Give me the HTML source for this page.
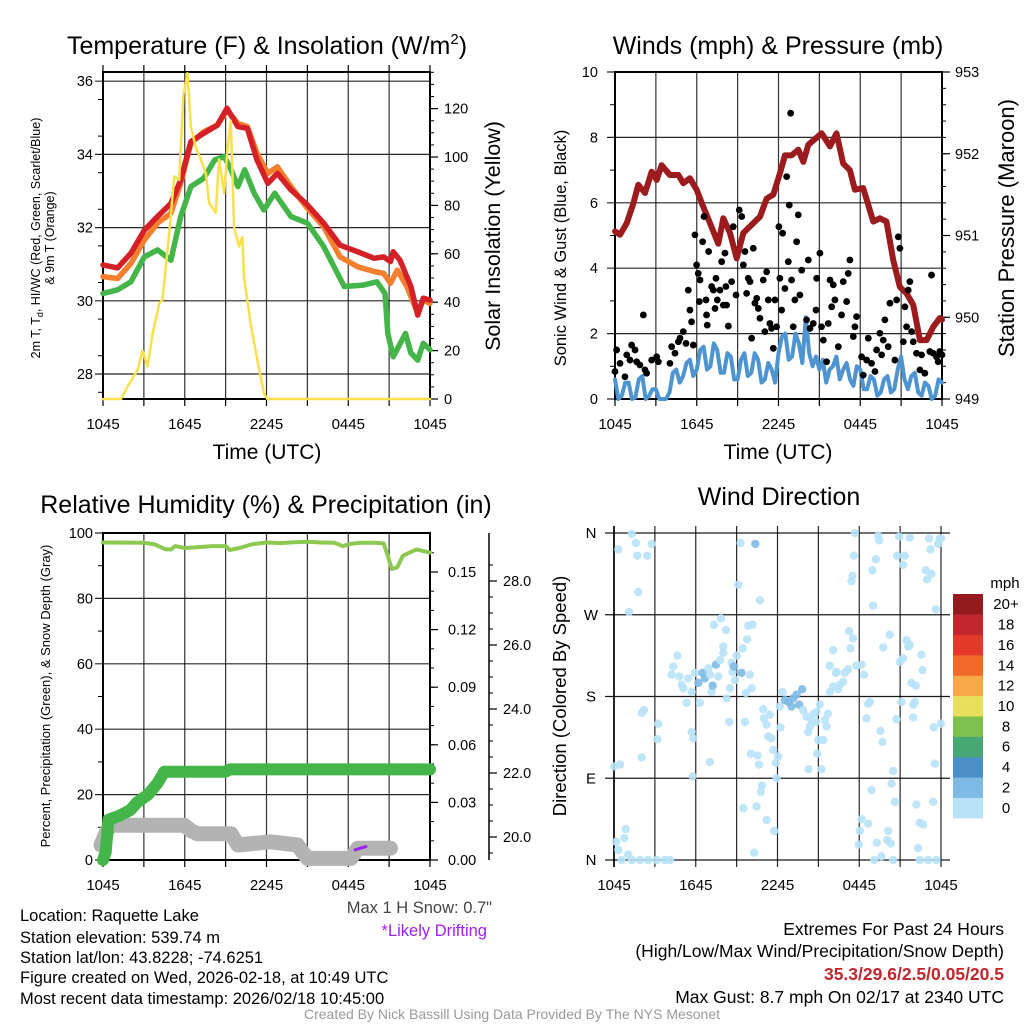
<!DOCTYPE html>
<html><head><meta charset="utf-8">
<style>
html,body{margin:0;padding:0;background:#fff;}
svg{display:block;font-family:"Liberation Sans",Arial,sans-serif;}
</style></head>
<body>
<svg id="fig" width="1024" height="1024" viewBox="0 0 1024 1024" xmlns="http://www.w3.org/2000/svg">
<g id="static">
<text x="267" y="54" font-size="25" text-anchor="middle">Temperature (F) &amp; Insolation (W/m<tspan dy="-10" font-size="15">2</tspan><tspan dy="10">)</tspan></text>
<text x="778" y="54" font-size="25" text-anchor="middle">Winds (mph) &amp; Pressure (mb)</text>
<text x="266" y="513" font-size="25" text-anchor="middle">Relative Humidity (%) &amp; Precipitation (in)</text>
<text x="779" y="505" font-size="25" text-anchor="middle">Wind Direction</text>
<text x="267" y="459" font-size="21" text-anchor="middle">Time (UTC)</text>
<text x="778" y="459" font-size="21" text-anchor="middle">Time (UTC)</text>
<text transform="translate(40,238) rotate(-90)" font-size="12.5" text-anchor="middle">2m T, T<tspan font-size="9" dy="3">d</tspan><tspan dy="-3">, HI/WC (Red, Green, Scarlet/Blue)</tspan></text>
<text transform="translate(54,238) rotate(-90)" font-size="12.5" text-anchor="middle">&amp; 9m T (Orange)</text>
<text transform="translate(500,236) rotate(-90)" font-size="21.5" text-anchor="middle">Solar Insolation (Yellow)</text>
<text transform="translate(566,248) rotate(-90)" font-size="16.5" text-anchor="middle">Sonic Wind &amp; Gust (Blue, Black)</text>
<text transform="translate(1014,228) rotate(-90)" font-size="22" text-anchor="middle">Station Pressure (Maroon)</text>
<text transform="translate(50,696) rotate(-90)" font-size="13" text-anchor="middle">Percent, Precipitation (Green), &amp; Snow Depth (Gray)</text>
<text transform="translate(566,696) rotate(-90)" font-size="18.5" text-anchor="middle">Direction (Colored By Speed)</text>
<text x="1005" y="588" font-size="15" text-anchor="middle">mph</text>
<text x="492" y="913" font-size="16.5" fill="#444" text-anchor="end">Max 1 H Snow: 0.7"</text>
<text x="487" y="936" font-size="16.5" fill="#a020f0" text-anchor="end">*Likely Drifting</text>
<g font-size="16.5">
<text x="20" y="921">Location: Raquette Lake</text>
<text x="20" y="943">Station elevation: 539.74 m</text>
<text x="20" y="963">Station lat/lon: 43.8228; -74.6251</text>
<text x="20" y="983">Figure created on Wed, 2026-02-18, at 10:49 UTC</text>
<text x="20" y="1004">Most recent data timestamp: 2026/02/18 10:45:00</text>
</g>
<g font-size="17.5" text-anchor="end">
<text x="1004" y="935">Extremes For Past 24 Hours</text>
<text x="1004" y="957">(High/Low/Max Wind/Precipitation/Snow Depth)</text>
<text x="1004" y="980" font-weight="bold" fill="#c1272d">35.3/29.6/2.5/0.05/20.5</text>
<text x="1004" y="1003">Max Gust: 8.7 mph On 02/17 at 2340 UTC</text>
</g>
<text x="512" y="1019" font-size="14" fill="#999" text-anchor="middle">Created By Nick Bassill Using Data Provided By The NYS Mesonet</text>
</g>
</svg>
<script>
// ---- data ----
const xTickLabels = ["1045","1645","2245","0445","1045"];
const xTickHours = [0,6,12,18,24];
// Temperature panel
const tempTicks = [28,30,32,34,36];
const insolTicks = [0,20,40,60,80,100,120];
const redHours = [0,1.07,2.05,3.03,4.0,4.98,5.7,6.45,7.4,8.4,9.1,9.9,10.6,11.3,12.1,12.8,13.8,15.0,16.2,17.4,18.7,19.9,20.6,21.1,21.3,21.8,22.6,23.1,23.5,24];
const redTemps = [30.98,30.90,31.30,31.93,32.30,32.66,33.30,34.35,34.58,34.80,35.26,34.76,34.71,33.85,33.21,33.48,33.03,32.62,32.12,31.52,31.34,31.16,31.20,31.07,31.34,31.11,30.39,29.61,30.07,30.02];
const orangeHours = [0,1.07,2.05,3.03,4.0,4.98,5.7,6.45,7.4,8.4,9.1,9.9,10.6,11.3,12.1,12.8,13.8,15.0,16.2,17.4,18.7,19.9,20.6,21.1,21.6,22.3,23.1,23.5,24];
const orangeTemps = [30.66,30.61,31.02,31.66,32.12,32.39,33.21,34.30,34.62,34.80,35.21,34.85,34.76,34.03,33.48,33.66,33.12,32.53,32.02,31.20,30.93,30.80,30.75,30.48,30.84,30.39,29.66,30.02,29.93];
const greenHours = [0,1.07,2.05,3.03,4.0,4.98,5.7,6.45,7.4,8.2,8.9,9.4,9.9,10.4,11.1,11.8,12.6,13.8,15.0,16.2,17.7,19.1,20.1,20.7,20.9,21.3,22.2,22.6,23.1,23.5,24];
const greenTemps = [30.20,30.30,30.52,31.20,31.39,31.11,32.30,33.12,33.35,33.85,33.94,33.58,33.12,33.58,32.94,32.48,32.94,32.30,32.12,31.48,30.39,30.43,30.52,30.20,29.11,28.47,29.11,28.57,28.38,28.84,28.66];
const insolHours = [0,1.32,1.93,2.54,2.9,3.27,3.64,4.13,4.37,4.86,5.23,5.59,5.91,6.2,6.45,6.81,7.18,7.55,7.79,8.28,8.52,8.89,9.13,9.38,9.62,9.99,10.23,10.35,10.84,11.33,11.82,12.06,24];
const insolValues = [0,0,6.5,12,20,13.4,27,39.5,41,68.5,92,90.5,126,134.6,112.5,104,99,93,81,77,99,85,103,115,71,63,67,50.5,31,16,2.3,0,0];
// Wind panel
const windTicks = [0,2,4,6,8,10];
const pressTicks = [949,950,951,952,953];
const pressHours = [0,0.37,0.86,1.34,1.71,2.2,2.69,3.06,3.42,4.03,4.65,5.01,5.5,5.99,6.48,6.97,7.58,7.95,8.44,8.93,9.42,10.15,10.64,11.13,11.62,12.1,12.47,12.96,13.45,13.82,14.19,15.16,15.78,16.26,16.75,17.24,17.61,18.22,18.96,19.44,19.93,20.42,20.91,21.4,21.89,22.38,22.87,23.35,23.84,24];
const pressValues = [951.05,951.01,951.15,951.39,951.62,951.52,951.78,951.68,951.86,951.74,951.74,951.64,951.70,951.56,951.35,951.15,950.90,951.21,951.03,950.72,951.03,951.15,951.23,951.45,951.50,951.76,951.98,951.98,952.05,951.90,952.11,952.25,952.09,952.25,951.88,951.80,951.56,951.58,951.17,951.21,951.17,950.70,950.37,950.29,950.15,949.72,949.72,949.88,949.99,949.97];
const windHours = [0,0.25,0.5,0.75,1,1.25,1.5,1.75,2,2.25,2.5,2.75,3,3.25,3.5,3.75,4,4.25,4.5,4.75,5,5.25,5.5,5.75,6,6.25,6.5,6.75,7,7.25,7.5,7.75,8,8.25,8.5,8.75,9,9.25,9.5,9.75,10,10.25,10.5,10.75,11,11.25,11.5,11.75,12,12.25,12.5,12.75,13,13.25,13.5,13.75,14,14.25,14.5,14.75,15,15.25,15.5,15.75,16,16.25,16.5,16.75,17,17.25,17.5,17.75,18,18.25,18.5,18.75,19,19.25,19.5,19.75,20,20.25,20.5,20.75,21,21.25,21.5,21.75,22,22.25,22.5,22.75,23,23.25,23.5,23.75,24];
const windSpeeds = [0.6,0.0,0.1,0.5,0.5,0.0,0.05,0.6,0.7,0.0,0.1,0.3,0.3,0.0,0,0.0,0.2,0.8,0.9,0.5,0.7,1.1,1.2,0.7,0.9,1.5,1.6,0.9,1.0,1.7,1.5,0.8,0.8,1.4,1.3,0.6,0.6,1.2,1.4,0.7,0.8,1.4,1.2,0.5,0.6,1.1,0.9,0.5,1.4,1.9,2.0,1.2,1.3,2.0,1.7,1.1,2.5,1.4,1.0,1.3,0.9,1.2,0.5,0.9,1.0,1.3,0.6,0.9,1.1,0.6,0.4,1.0,0.9,0.3,0.3,0.7,0.6,0.1,0.2,0.6,0.7,0.2,0.3,0.9,1.3,0.6,0.3,0.7,0.8,0.2,0.1,0.5,0.4,0.0,0.1,0.6,0.5];
const gustHours = [0,0.12,0.37,0.73,0.86,1.1,1.22,1.47,1.59,1.83,2.08,2.2,2.32,2.69,3.06,3.18,4.03,4.16,4.4,4.65,4.77,5.01,5.21,5.38,5.5,5.62,5.75,5.87,5.99,6.11,6.19,6.24,6.43,6.53,6.68,6.72,6.77,6.87,7.09,7.22,7.34,7.41,7.51,7.7,7.83,7.95,8.07,8.14,8.19,8.32,8.56,8.68,8.88,9.12,9.3,9.42,9.54,9.66,9.78,9.91,10.03,10.15,10.27,10.4,10.52,10.64,10.88,11.0,11.13,11.25,11.37,11.49,11.62,11.74,11.86,12.03,12.1,12.23,12.3,12.47,12.6,12.72,12.79,12.89,12.96,13.08,13.2,13.33,13.45,13.57,13.7,14.06,14.19,14.31,14.55,14.75,14.8,15.04,15.16,15.29,15.53,15.65,15.78,15.9,16.02,16.14,16.39,16.63,16.75,17.0,17.12,17.24,17.49,17.61,17.73,18.1,18.22,18.47,18.59,18.83,19.08,19.2,19.44,19.57,19.69,19.81,20.05,20.18,20.54,20.67,20.79,20.91,21.16,21.28,21.4,21.52,21.64,21.77,21.89,22.13,22.38,22.5,22.74,23.11,23.23,23.35,23.6,23.72,23.84,24];
const gustSpeeds = [0.84,1.50,1.09,0.68,1.35,1.19,1.65,1.50,1.14,1.04,2.57,0.89,0.79,1.19,1.29,1.14,1.09,1.60,1.40,1.75,1.86,2.06,1.70,3.33,2.72,2.36,1.65,5.02,4.10,3.84,2.98,3.64,4.81,5.58,3.03,2.57,2.26,4.51,3.44,3.33,2.77,3.69,3.03,3.33,4.20,2.87,4.46,3.44,2.87,2.23,3.59,5.27,3.18,5.78,5.58,4.10,4.51,3.23,3.69,3.59,1.86,4.61,2.93,3.08,2.77,2.47,3.64,2.06,3.89,3.03,2.31,2.16,1.55,3.03,2.21,5.27,3.69,2.72,5.07,3.38,6.80,4.20,5.93,8.74,3.64,2.21,3.03,4.81,5.63,3.18,3.94,2.42,4.25,2.16,2.31,2.72,3.69,4.46,2.21,1.80,1.14,2.31,3.64,2.82,3.49,3.03,1.60,2.57,3.59,2.98,3.84,4.25,1.91,2.21,2.52,1.29,0.73,1.19,1.86,1.09,0.84,1.50,2.01,1.35,1.80,2.42,1.60,2.93,1.19,3.03,4.96,4.61,1.75,2.82,2.21,3.33,3.59,2.06,1.75,1.40,0.89,1.35,0.79,1.45,3.79,1.40,1.29,1.14,1.45,1.35];
// Humidity panel
const rhTicks = [0,20,40,60,80,100];
const precipTicks = [0,0.03,0.06,0.09,0.12,0.15];
const precipTickLabels = ["0.00","0.03","0.06","0.09","0.12","0.15"];
const snowTicks = [20,22,24,26,28];
const snowTickLabels = ["20.0","22.0","24.0","26.0","28.0"];
const rhHours = [0,3,3.8,4.6,5,5.3,6,7,8,9,9.3,10,11,12,13,14,15,16,17,17.6,18.2,19,20,20.6,20.9,21.2,21.6,22,22.5,23,24];
const rhValues = [97.1,97.0,96.5,95.0,95.0,96.0,95.4,95.7,96.0,96.0,94.8,95.4,96.6,97.1,96.9,97.2,97.3,97.1,97.0,96.0,96.7,97.0,97.0,96.8,93.0,89.0,89.5,93.0,94.0,95.0,94.0];
const precipHours = [0,0.2,0.3,0.4,1.2,2,2.5,3.3,4,4.5,9,9.3,24];
const precipValues = [0,0.004,0.013,0.021,0.023,0.026,0.030,0.034,0.040,0.046,0.046,0.0472,0.0472];
const snowHours = [-0.15,0.3,0.6,5.96,6.45,6.93,9.4,9.9,12.3,14.26,15.0,18.2,18.7,21.1];
const snowDepths = [19.75,20.2,20.37,20.37,20.2,20.1,20.1,19.75,19.85,19.75,19.33,19.33,19.65,19.65];
const driftHours = [18.5,19.3];
const driftDepths = [19.6,19.7];
// Direction panel
const dirLabels = ["N","E","S","W","N"];
const dirTicks = [0,90,180,270,360];
const dirHours = [0.32,1.30,1.61,1.71,2.44,2.76,1.78,1.10,0,0.44,0.15,0.32,0.86,0.76,0.56,1.05,1.30,1.91,2.52,3.13,3.74,4.11,2.03,2.20,2.03,3.25,3.18,4.35,4.23,4.65,4.79,4.96,5.09,5.33,5.45,5.70,5.70,5.82,5.77,5.94,6.19,6.31,6.50,6.67,6.92,7.04,7.16,7.24,7.04,7.33,7.48,7.65,7.78,7.85,8.02,8.02,8.22,8.26,8.46,8.51,8.63,8.70,8.80,8.88,9.00,9.12,9.29,9.36,9.44,9.61,9.68,9.78,9.85,9.98,10.17,10.10,10.37,10.71,10.05,10.54,10.64,10.86,10.78,10.46,10.95,11.00,11.20,11.32,11.44,11.56,11.69,11.93,11.88,12.05,11.20,11.76,9.49,10.29,12.18,12.22,12.37,12.54,12.79,13.03,13.15,13.40,13.59,13.81,13.89,14.13,14.25,14.38,14.50,14.67,14.82,14.87,15.11,14.99,15.35,15.48,15.60,15.70,14.91,15.23,14.28,15.84,16.09,16.28,16.33,15.84,16.09,16.45,16.58,16.82,16.94,17.19,17.26,17.36,17.55,17.80,18.17,18.34,17.68,17.60,17.51,17.43,18.78,18.66,18.53,19.56,19.71,20.49,18.90,18.17,18.04,18.66,17.97,19.29,19.63,20.12,20.05,20.32,19.10,20.49,20.37,20.61,21.10,20.73,20.98,21.22,21.47,21.59,21.71,21.83,21.96,22.08,21.96,22.57,22.64,22.15,22.20,22.44,22.69,22.32,22.44,23.06,23.67,23.42,23.55,23.47,24.0,19.76,20.24,19.02,18.97,19.22,19.39,19.46,20.93,20.78,21.34,21.22,21.71,23.13,23.23,22.88,22.98,23.30,23.91,23.79,23.62,24.0];
const dirDegrees = [342,359,349,335,335,348,295,273,103,105,20,11,34,24,0,6,0,0,0,0,0,0,162,165,113,150,133,213,204,225,202,193,189,173,200,185,141,134,92,206,195,173,206,200,211,204,185,192,108,259,215,202,220,266,235,228,253,178,152,189,217,207,213,198,225,303,349,206,233,152,184,243,258,204,259,189,348,286,117,115,105,82,75,59,166,156,149,136,160,134,121,90,107,114,44,32,57,8,169,146,185,176,174,169,178,182,171,188,165,158,141,147,154,161,152,163,171,132,132,154,147,161,117,100,100,214,231,206,207,185,191,188,193,196,206,210,252,233,244,214,215,204,360,335,313,307,174,172,156,142,130,98,77,45,32,40,17,19,4,32,22,18,0,0,84,64,174,155,218,222,242,235,237,195,171,174,157,226,209,192,61,41,39,13,0,0,0,64,106,146,150,234,248,280,319,331,357,352,356,335,335,325,355,354,342,319,309,315,354,348,276,354];
const dirSpeeds = [1,1,1,1,1,1,1,1,1,1,1,1,1,1,1,1,1,1,1,1,1,1,1,1,1,1,1,1,1,1,1,1,1,1,1,1,1,1,1,1,3,1,3,3,1,1,1,3,1,1,3,1,1,1,1,1,1,1,1,1,1,1,3,1,1,1,1,3,1,1,1,1,1,1,1,1,3,1,1,1,1,1,1,1,1,1,1,1,1,1,1,1,1,1,1,1,1,1,1,1,1,3,3,3,3,3,3,3,1,1,1,1,1,1,1,1,1,1,1,1,1,1,1,1,1,1,1,1,1,1,1,1,1,1,1,1,1,1,1,1,1,1,1,1,1,1,1,1,1,1,1,1,1,1,1,1,1,1,1,1,1,1,1,1,1,1,1,1,1,1,1,1,1,1,1,1,1,1,1,1,1,1,1,1,1,1,1,1,1,1,1,1,1,1,1,1,1,1,1,1,1,1,1,1,1,1,1,1,1,1,1,1,1,1];
const cbLabels = ["0","2","4","6","8","10","12","14","16","18","20+"];
const cbColors = ["#b8e2f7","#7fbae4","#4a8fc6","#48a873","#7fc14e","#e8e05a","#f9a847","#f26a2a","#e2392b","#c1272d","#931a1d"];

// ---- scales ----
const NS = "http://www.w3.org/2000/svg";
const svg = document.getElementById("fig");
function mk(tag, attrs, parent){ const e=document.createElementNS(NS,tag); for(const k in attrs) e.setAttribute(k,attrs[k]); (parent||svg).appendChild(e); return e; }
const xL = h => 103 + h*327/24;
const xW = h => 615 + h*327/24;
const xR = h => 614 + h*327/24;
const yTemp = t => 374 - (t-28)*36.6;
const yInsol = v => 399 - v*2.42;
const yWind = v => 399 - v*32.7;
const yPress = p => 399 - (p-949)*81.75;
const yRH = v => 860 - v*3.27;
const yPrecip = v => 860 - v*1920;
const ySnow = v => 837 - (v-20)*32;
const yDir = d => 860 - d*327/360;
const cbY = i => 818 - (i+1)*224/11;

function lineD(xs, ys, xf, yf){ return xs.map((h,i)=>(i?"L":"M")+xf(h).toFixed(1)+","+yf(ys[i]).toFixed(1)).join(""); }

// ---- frames, grids, ticks ----
function frame(x0,x1,y0,y1,name,gridYs,minorYsL,name2){
  const g = mk("g",{});
  
  
  for(let k=1;k<8;k++){ const x=x0+k*(x1-x0)/8;
    const l=mk("line",{x1:x,x2:x,y1:y0,y2:y1,stroke:"#000","stroke-width":1.2,"stroke-opacity":0.8},g);
    
     }
  gridYs.forEach(y=>{ const l=mk("line",{x1:x0-8,x2:x1,y1:y,y2:y,stroke:"#000","stroke-width":1.2,"stroke-opacity":0.85},g);
    
     });
  minorYsL.forEach(y=>{ const l=mk("line",{x1:x0-5,x2:x0,y1:y,y2:y,stroke:"#000","stroke-width":1},g);
    
     });
  for(let k=0;k<=8;k++){ const x=x0+k*(x1-x0)/8;
    const t=mk("line",{x1:x,x2:x,y1:y1,y2:y1+7,stroke:"#000","stroke-width":1.2},g);
    
     }
  const r=mk("rect",{x:x0,y:y0,width:x1-x0,height:y1-y0,fill:"none",stroke:"#000","stroke-width":2},g);
  
  
  xTickHours.forEach((h,i)=>{ const t=mk("text",{x:x0+h*(x1-x0)/24,y:y1+30,"font-size":15,"text-anchor":"middle"},g);
    t.textContent=xTickLabels[i];
    
     });
  return g;
}
function yLabels(vals, labels, yf, x, anchor){
  vals.forEach((v,i)=>{ const t=mk("text",{x:x,y:yf(v)+5,"font-size":14.5,"text-anchor":anchor});
    t.textContent=labels[i];
    
     });
}
function rightTicks(x, majors, minors, yf){
  majors.forEach(v=>{ const l=mk("line",{x1:x,x2:x+8,y1:yf(v),y2:yf(v),stroke:"#000","stroke-width":1.2});
    
     });
  minors.forEach(v=>{ const l=mk("line",{x1:x,x2:x+4,y1:yf(v),y2:yf(v),stroke:"#000","stroke-width":1});
    
     });
}
function range(a,b,s){ const r=[]; for(let v=a; v<=b+1e-9; v+=s) r.push(+v.toFixed(4)); return r; }

// Panel 1
frame(103,430,72,399,"temperature-panel",tempTicks.map(yTemp),range(27.5,36,1).map(yTemp),"temperature-plot-area");
for(let k=0;k<=8;k++){ const x=103+k*327/8; const l=mk("line",{x1:x,x2:x,y1:65,y2:72,stroke:"#000","stroke-width":1.2});
  
   }
yLabels(tempTicks, tempTicks.map(String), yTemp, 93, "end");
rightTicks(430, insolTicks, range(5,135,5), yInsol);
yLabels(insolTicks, insolTicks.map(String), yInsol, 444, "start");
// Panel 2
frame(615,942,72,399,"wind-panel",windTicks.map(yWind),range(1,9,2).map(yWind),"wind-plot-area");
yLabels(windTicks, windTicks.map(String), yWind, 598, "end");
rightTicks(942, pressTicks, range(949.2,952.8,0.2), yPress);
yLabels(pressTicks, pressTicks.map(String), yPress, 955, "start");
// Panel 3
frame(103,430,533,860,"humidity-panel",rhTicks.map(yRH),range(10,90,20).map(yRH),"humidity-plot-area");
yLabels(rhTicks, rhTicks.map(String), yRH, 93, "end");
rightTicks(430, precipTicks, range(0.01,0.16,0.01), yPrecip);
yLabels(precipTicks, precipTickLabels, yPrecip, 448, "start");
{ const l=mk("line",{x1:489,x2:489,y1:533,y2:860,stroke:"#000","stroke-width":1.5});
  
   }
rightTicks(489, snowTicks, range(19.5,28.5,0.5), ySnow);
yLabels(snowTicks, snowTickLabels, ySnow, 503, "start");
// Panel 4 (grid only, no box)
{ const g=mk("g",{});
  
  
  for(let k=0;k<=8;k++){ const x=614+k*327/8;
    const l=mk("line",{x1:x,x2:x,y1:526,y2:867,stroke:"#000","stroke-width":k===0?2:1.2,"stroke-opacity":0.85},g);
    
     }
  dirTicks.forEach((d,i)=>{ const y=yDir(d);
    const l=mk("line",{x1:605,x2:950,y1:y,y2:y,stroke:"#000","stroke-width":1.2,"stroke-opacity":0.9},g);
    
    
    const t=mk("text",{x:591,y:y+5,"font-size":15,"text-anchor":"middle"},g);
    t.textContent=dirLabels[i];
    
     });
  xTickHours.forEach((h,i)=>{ const t=mk("text",{x:xR(h),y:890,"font-size":15,"text-anchor":"middle"},g);
    t.textContent=xTickLabels[i];
    
     });
}

// ---- series ----
function path(d, stroke, w, name){ const p=mk("path",{d:d,fill:"none",stroke:stroke,"stroke-width":w,"stroke-linejoin":"round","stroke-linecap":"round"});
  
   return p; }
path(lineD(greenHours,greenTemps,xL,yTemp),"#44b549",5.5,"dewpoint-line");
path(lineD(orangeHours,orangeTemps,xL,yTemp),"#f47f2e",5.5,"9m-temperature-line");
path(lineD(redHours,redTemps,xL,yTemp),"#d42027",5.5,"2m-temperature-line");
path(lineD(insolHours,insolValues,xL,yInsol),"#fbe04e",2.5,"insolation-line");

path(lineD(pressHours,pressValues,xW,yPress),"#9b1b1e",6,"pressure-line");
path(lineD(windHours,windSpeeds,xW,yWind),"#4e94d1",4,"wind-speed-line");
gustHours.forEach((h,i)=>{ const c=mk("circle",{cx:xW(h),cy:yWind(gustSpeeds[i]),r:3.4,fill:"#000"});
  
   });

path(lineD(snowHours,snowDepths,xL,ySnow),"#b3b3b3",15,"snow-depth-line");
path(lineD(driftHours,driftDepths,xL,ySnow),"#a020f0",3,"drifting-segment");
path(lineD(precipHours,precipValues,xL,yPrecip),"#44b549",12,"precipitation-line");
path(lineD(rhHours,rhValues,xL,yRH),"#8dc950",4,"humidity-line");

dirHours.forEach((h,i)=>{ const c=mk("circle",{cx:xR(h),cy:yDir(dirDegrees[i]),r:4.2,fill:cbColors[Math.min(10,Math.floor(dirSpeeds[i]/2))],"fill-opacity":0.9});
  
   });

cbColors.forEach((col,i)=>{ const r=mk("rect",{x:953,y:cbY(i),width:30,height:224/11+0.3,fill:col});
  
  
  const t=mk("text",{x:1006,y:cbY(i)+224/22+5,"font-size":15,"text-anchor":"middle"});
  t.textContent=cbLabels[i];
  
   });
</script>
</body></html>
